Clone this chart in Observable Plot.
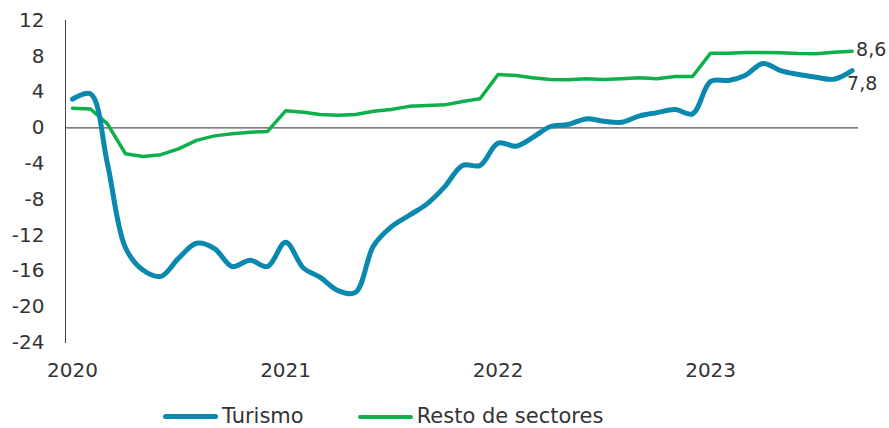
<!DOCTYPE html>
<html>
<head>
<meta charset="utf-8">
<script src="https://cdn.jsdelivr.net/npm/d3@7"></script>
<script src="https://cdn.jsdelivr.net/npm/@observablehq/plot@0.6"></script>
<style>
  html, body { margin: 0; padding: 0; background: #fff; }
  body { width: 889px; font-family: "DejaVu Sans", sans-serif; color: #333; }
  #chart svg { display: block; }
  #legend { display: flex; align-items: center; height: 21px; line-height: 21px; margin-top: 14px; padding-left: 163px; font-size: 21px; color: #333; }
  .item { display: flex; align-items: center; margin-right: 54px; }
  .sw { width: 55px; border-radius: 3px; margin-right: 4px; }
</style>
</head>
<body>
<div id="chart"></div>
<div id="legend"></div>
<script>
const months = [
  "2020-01","2020-02","2020-03","2020-04","2020-05","2020-06","2020-07","2020-08","2020-09","2020-10","2020-11","2020-12",
  "2021-01","2021-02","2021-03","2021-04","2021-05","2021-06","2021-07","2021-08","2021-09","2021-10","2021-11","2021-12",
  "2022-01","2022-02","2022-03","2022-04","2022-05","2022-06","2022-07","2022-08","2022-09","2022-10","2022-11","2022-12",
  "2023-01","2023-02","2023-03","2023-04","2023-05","2023-06","2023-07","2023-08","2023-09"
];
const turismo = [3.2, 3.8, -4.0, -13.4, -15.9, -16.6, -14.6, -12.9, -13.5, -15.5, -14.8, -15.5,
  -12.8, -15.7, -16.7, -18.2, -18.4, -13.2, -11.1, -9.8, -8.5, -6.6, -4.2, -4.2,
  -1.7, -2.05, -1.1, 0.15, 0.37, 1.0, 0.74, 0.63, 1.34, 1.7, 2.05, 1.56,
  5.2, 5.3, 5.85, 7.2, 6.4, 5.96, 5.66, 5.44, 6.4];
const resto = [2.2, 2.1, 0.45, -2.9, -3.2, -3.0, -2.35, -1.4, -0.9, -0.67, -0.5, -0.4,
  1.9, 1.75, 1.5, 1.4, 1.5, 1.85, 2.05, 2.4, 2.5, 2.57, 2.95, 3.25,
  5.96, 5.85, 5.6, 5.4, 5.37, 5.5, 5.4, 5.48, 5.6, 5.5, 5.74, 5.74,
  8.35, 8.35, 8.42, 8.42, 8.4, 8.3, 8.28, 8.46, 8.55];
const seriesNames = ["Turismo", "Resto de sectores"];
const seriesColors = ["#0b88ad", "#0db04b"];
const endLabels = ["7,8", "8,6"];
const yTicks = [12, 8, 4, 0, -4, -8, -12, -16, -20, -24];
const xTickYears = ["2020", "2021", "2022", "2023"];

const parse = d3.utcParse("%Y-%m");
const dates = months.map(parse);
const tur = dates.map((d, i) => ({date: d, value: turismo[i]}));
const res = dates.map((d, i) => ({date: d, value: resto[i]}));
const xTicks = xTickYears.map(y => d3.utcParse("%Y")(y));

const font = "DejaVu Sans, sans-serif";
const chart = Plot.plot({
  width: 889,
  height: 392,
  marginTop: 20,
  marginBottom: 50,
  marginLeft: 65,
  marginRight: 31,
  style: {fontFamily: font, fontSize: "20px", color: "#333", background: "#fff"},
  x: {type: "utc", domain: [new Date(Date.UTC(2019, 11, 20)), new Date(Date.UTC(2023, 8, 12))]},
  y: {domain: [-24, 12]},
  marks: [
    Plot.axisY({ticks: yTicks, tickSize: 0, tickPadding: 21, label: null, tickFormat: d => String(d)}),
    Plot.axisX({ticks: xTicks, tickSize: 0, tickPadding: 20, label: null, tickFormat: d3.utcFormat("%Y")}),
    Plot.frame({anchor: "left", stroke: "#444", strokeWidth: 1}),
    Plot.ruleY([0], {stroke: "#555", strokeWidth: 1.2}),
    Plot.line(res, {x: "date", y: "value", stroke: seriesColors[1], strokeWidth: 3.5}),
    Plot.line(tur, {x: "date", y: "value", stroke: seriesColors[0], strokeWidth: 5, curve: "catmull-rom"}),
    Plot.text([res[res.length - 1]], {x: "date", y: "value", text: () => endLabels[1], textAnchor: "start", dx: 4, dy: -1, fill: "#333", fontSize: 19}),
    Plot.text([tur[tur.length - 1]], {x: "date", y: "value", text: () => endLabels[0], textAnchor: "start", dx: -5, dy: 13, fill: "#333", fontSize: 19})
  ]
});
document.getElementById("chart").appendChild(chart);

const legend = document.getElementById("legend");
seriesNames.forEach((name, i) => {
  const item = document.createElement("div");
  item.className = "item";
  const sw = document.createElement("span");
  sw.className = "sw";
  sw.style.background = seriesColors[i];
  sw.style.height = i === 0 ? "5px" : "4px";
  const t = document.createElement("span");
  t.textContent = name;
  item.appendChild(sw);
  item.appendChild(t);
  legend.appendChild(item);
});
</script>
</body>
</html>
